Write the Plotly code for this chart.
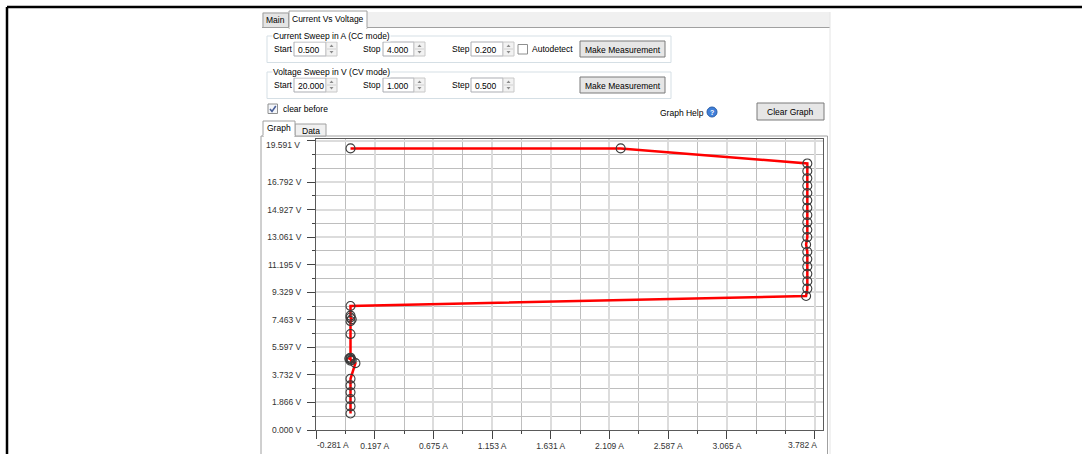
import plotly.graph_objects as go

# ---------------- data ----------------
current_a = [0.00, 2.20,
             3.72, 3.72, 3.72, 3.72, 3.72, 3.72, 3.72, 3.72, 3.72, 3.72,
             3.72, 3.71, 3.72, 3.72, 3.72, 3.72, 3.72, 3.72, 3.71,
             0.00, 0.00, 0.00, 0.01, 0.00, 0.00, 0.00, -0.01, 0.00, 0.01, 0.00, 0.04,
             0.00, 0.00, 0.00, 0.00, 0.00, 0.00]
voltage_v = [19.08, 19.08,
             18.06, 17.55, 17.06, 16.55, 16.06, 15.56, 15.06, 14.56, 14.07, 13.57,
             13.07, 12.57, 12.08, 11.58, 11.08, 10.58, 10.08, 9.58, 9.08,
             8.40, 7.75, 7.62, 7.50, 7.38, 6.50, 4.90, 4.84, 4.80, 4.74, 4.70, 4.53,
             3.47, 3.02, 2.55, 2.09, 1.60, 1.12]

x_major_vals = [-0.281, 0.197, 0.675, 1.153, 1.631, 2.109, 2.587, 3.065, 3.782]
x_major_text = ["-0.281 A", "0.197 A", "0.675 A", "1.153 A", "1.631 A", "2.109 A", "2.587 A", "3.065 A", "3.782 A"]
x_minor_vals = [-0.042, 0.436, 0.914, 1.392, 1.870, 2.348, 2.826, 3.304, 3.543]
y_major_vals = [0.000, 1.866, 3.732, 5.597, 7.463, 9.329, 11.195, 13.061, 14.927, 16.792, 19.591]
y_major_text = ["0.000 V", "1.866 V", "3.732 V", "5.597 V", "7.463 V", "9.329 V", "11.195 V",
                "13.061 V", "14.927 V", "16.792 V", "19.591 V"]
y_minor_vals = [0.933, 2.799, 4.665, 6.530, 8.396, 10.262, 12.128, 13.994, 15.859, 17.725, 18.658]

cc_values = ["0.500", "4.000", "0.200"]
cv_values = ["20.000", "1.000", "0.500"]
field_names = ["Start", "Stop", "Step"]

# ---------------- geometry (pixels) ----------------
FW, FH = 1082, 454
L, R, T, B = 316, 823, 139, 430
W, H = R - L, B - T
FONT = "Liberation Sans"

def px(x):
    return (x - L) / W

def py(y):
    return (B - y) / H

shapes, annotations = [], []

def rect(x0, y0, x1, y1, fill="rgba(0,0,0,0)", line="#a0a0a0", lw=1):
    shapes.append(dict(type="rect", xref="paper", yref="paper",
                       x0=px(x0), x1=px(x1), y0=py(y1), y1=py(y0),
                       fillcolor=fill, line=dict(color=line, width=lw), layer="above"))

def seg(x0, y0, x1, y1, color="#a0a0a0", lw=1):
    shapes.append(dict(type="line", xref="paper", yref="paper",
                       x0=px(x0), x1=px(x1), y0=py(y0), y1=py(y1),
                       line=dict(color=color, width=lw), layer="above"))

def poly(pts, fill="#555", line="rgba(0,0,0,0)", lw=0, close=True):
    d = "M " + " L ".join(f"{px(a):.5f},{py(b):.5f}" for a, b in pts) + (" Z" if close else "")
    shapes.append(dict(type="path", xref="paper", yref="paper", path=d,
                       fillcolor=fill if close else "rgba(0,0,0,0)",
                       line=dict(color=line, width=lw), layer="above"))

def text(x, y, s, anchor="left", size=8.5, color="#000", bg=None, bold=False):
    a = dict(xref="paper", yref="paper", x=px(x), y=py(y), text=("<b>%s</b>" % s) if bold else s,
             showarrow=False, xanchor=anchor, yanchor="middle",
             font=dict(family=FONT, size=size, color=color), borderpad=0)
    if bg:
        a["bgcolor"] = bg
    annotations.append(a)

# page frame lines
seg(7, 7, FW, 7, "#000", 2.5)
seg(7, 7, 7, FH, "#000", 2.5)

# top tab strip
rect(262, 12, 830, 27.5, fill="#f0f0f0", line="rgba(0,0,0,0)", lw=0)
seg(262, 27.5, 830, 27.5, "#a0a0a0", 1)
seg(830, 12, 830, FH, "#e4e4e4", 1)
rect(263, 13, 288.5, 27.5, fill="#e4e4e4", line="#a0a0a0")
text(275.5, 20.5, "Main", "center")
rect(289, 11, 367, 28.5, fill="#ffffff", line="#a0a0a0")
seg(289.5, 28, 366.5, 28, "#ffffff", 2)
text(328, 19.5, "Current Vs Voltage", "center")

def spinner(x0, x1, yc):
    rect(x0, yc - 7, x1, yc + 7, fill="#f2f2f2", line="#c8c8c8")
    seg(x0 + 1, yc, x1 - 1, yc, "#d0d0d0", 1)
    xm = (x0 + x1) / 2
    poly([(xm - 2, yc - 2), (xm + 2, yc - 2), (xm, yc - 4.5)], fill="#8a8a8a")
    poly([(xm - 2, yc + 2), (xm + 2, yc + 2), (xm, yc + 4.5)], fill="#8a8a8a")

def button(x0, y0, x1, y1, s):
    rect(x0, y0, x1, y1, fill="#e6e6e6", line="#7a7a7a")
    text((x0 + x1) / 2, (y0 + y1) / 2 + 0.5, s, "center")

def checkbox(x0, y0, checked=False):
    rect(x0, y0, x0 + 9.5, y0 + 9.5, fill="#ffffff" if not checked else "#f4f6fa", line="#8e8f8f")
    if checked:
        poly([(x0 + 2, y0 + 5), (x0 + 4, y0 + 7.5), (x0 + 7.8, y0 + 2)],
             line="#4a5f97", lw=1.6, close=False)

def group(y_top, title, vals, yc, with_auto):
    rect(267, y_top, 671, y_top + 26.5, line="#d5dfe5")
    text(272, y_top, title, "left", bg="#ffffff")
    tb = [(294, 326, 337), (383, 414, 425), (471, 503, 514)]
    lx = [273, 361.5, 450.5]
    for name, v, (a, b, c), lxx in zip(field_names, vals, tb, lx):
        text(lxx, yc, name)
        rect(a, yc - 7, b, yc + 7, fill="#ffffff", line="#abadb3")
        text(a + 3, yc + 0.5, v)
        spinner(b, c, yc)
    if with_auto:
        checkbox(518, yc - 4.5)
        text(531, yc, "Autodetect")
    button(580, yc - 8, 665, yc + 8, "Make Measurement")

group(36, "Current Sweep in A (CC mode)", cc_values, 49, True)
group(72, "Voltage Sweep in V (CV mode)", cv_values, 85, False)

checkbox(268, 104, checked=True)
text(282, 109, "clear before")
text(705, 112.5, "Graph Help", "right")
shapes.append(dict(type="circle", xref="paper", yref="paper",
                   x0=px(707), x1=px(717), y0=py(117), y1=py(107),
                   fillcolor="#3f7fd9", line=dict(color="#2a5ea8", width=1), layer="above"))
text(712, 112.5, "?", "center", size=7, color="#ffffff", bold=True)
button(757, 103, 824, 120, "Clear Graph")

# graph tabs + panel
rect(261, 136, 827.5, FH + 5, line="#a0a0a0")
rect(295, 124, 326, 136, fill="#f0f0f0", line="#a0a0a0")
text(310.5, 130.5, "Data", "center")
rect(263, 121, 295, 136.5, fill="#ffffff", line="#a0a0a0")
seg(263.5, 136, 294.5, 136, "#ffffff", 2)
text(279, 128, "Graph", "center")

# edge tick labels (clamped inside the frame as in the reference)
tick_font = dict(family=FONT, size=8.5, color="#333")
annotations.append(dict(xref="x", yref="paper", x=x_major_vals[0], y=py(445), text=x_major_text[0],
                        showarrow=False, xanchor="left", yanchor="middle", xshift=-1, font=tick_font))
annotations.append(dict(xref="x", yref="paper", x=x_major_vals[-1], y=py(445), text=x_major_text[-1],
                        showarrow=False, xanchor="right", yanchor="middle", xshift=4, font=tick_font))
annotations.append(dict(xref="paper", yref="y", x=px(302), y=y_major_vals[-1], text=y_major_text[-1],
                        showarrow=False, xanchor="right", yanchor="middle", yshift=-4, font=tick_font))
x_tick_text = [""] + x_major_text[1:-1] + [""]
y_tick_text = y_major_text[:-1] + [""]

fig = go.Figure()
fig.add_trace(go.Scatter(
    x=current_a, y=voltage_v, mode="lines+markers",
    line=dict(color="#ff0000", width=2.5),
    marker=dict(symbol="circle-open", size=9, color="#3a3a3a", line=dict(width=1.1)),
    showlegend=False, hoverinfo="x+y"))

axis_common = dict(showline=True, mirror=True, linecolor="#5a5a5a", linewidth=1,
                   zeroline=False, showgrid=True, gridcolor="#dcdcdc", gridwidth=2,
                   ticks="outside", ticklen=8, tickcolor="#444", tickwidth=1, automargin=False,
                   tickfont=tick_font, tickmode="array")

fig.update_xaxes(range=[-0.281, -0.281 + W / 122.8], tickvals=x_major_vals, ticktext=x_tick_text,
                 minor=dict(tickmode="array", tickvals=x_minor_vals, ticks="outside", ticklen=3,
                            tickcolor="#444", showgrid=True, gridcolor="#bebebe", gridwidth=1),
                 **axis_common)
fig.update_yaxes(range=[0, H / 14.76], tickvals=y_major_vals, ticktext=y_tick_text,
                 ticklabelstandoff=4,
                 minor=dict(tickmode="array", tickvals=y_minor_vals, ticks="outside", ticklen=3,
                            tickcolor="#444", showgrid=True, gridcolor="#bebebe", gridwidth=1),
                 **axis_common)

fig.update_layout(width=FW, height=FH, autosize=False,
                  margin=dict(l=L, r=FW - R, t=T, b=FH - B, pad=0, autoexpand=False),
                  paper_bgcolor="#ffffff", plot_bgcolor="#ffffff",
                  shapes=shapes, annotations=annotations,
                  font=dict(family=FONT, size=8.5, color="#000"))

fig.write_html("out.html", config={"displayModeBar": False},
               post_script="document.body.style.margin='0';document.body.style.overflow='hidden';")
